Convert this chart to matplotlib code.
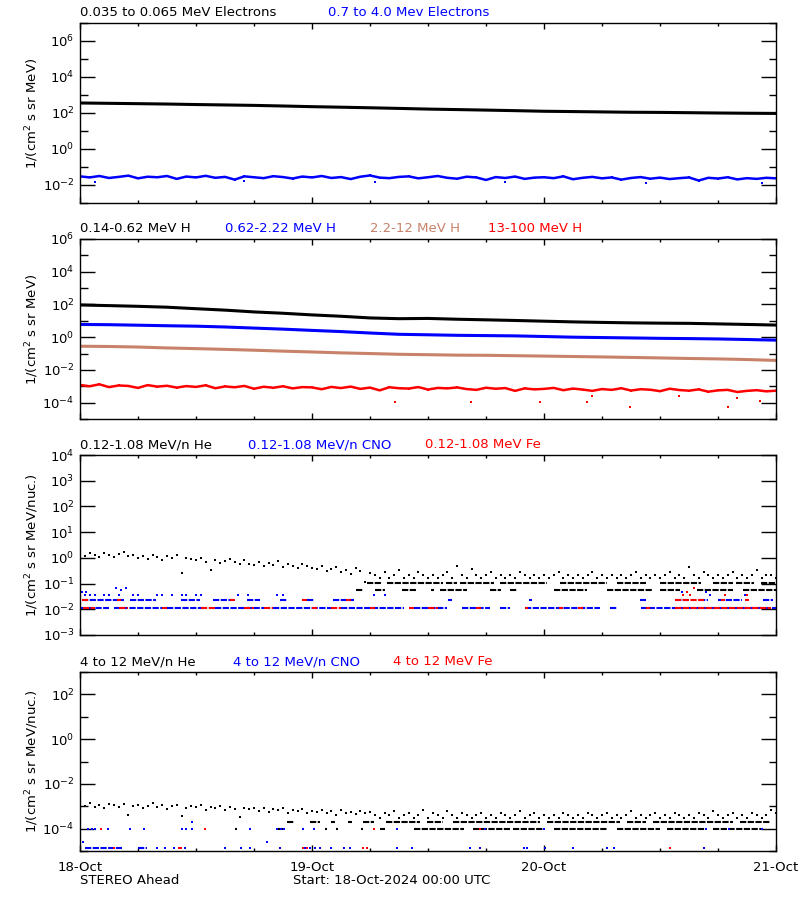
import numpy as np
import matplotlib
matplotlib.use("Agg")
import matplotlib.pyplot as plt
from matplotlib.ticker import FixedLocator, LogFormatterMathtext, NullFormatter

plt.rcParams["font.family"] = "DejaVu Sans"
plt.rcParams["font.size"] = 9.5

BLUE = "#0000ff"
RED = "#ff0000"
TAN = "#c8826a"

# time axis: hours since 18-Oct-2024 00:00 UTC
day_labels = ["18-Oct", "19-Oct", "20-Oct", "21-Oct"]
t3 = np.arange(0, 73, 3)            # 3-hourly samples
t1 = np.arange(0, 73, 1)            # hourly samples
t_early = np.arange(0, 30.01, 0.5)  # half-hourly, first 30 h
t_late = np.arange(30.5, 72.01, 0.5)  # half-hourly, rest

# ---------------- panel 1: electrons ----------------
e_lo = [360, 345, 330, 315, 295, 280, 265, 245, 225, 210, 195, 180, 165,
        155, 145, 135, 125, 120, 115, 110, 108, 104, 100, 97, 95]
e_hi_log = [-1.52, -1.58, -1.50, -1.61, -1.55, -1.48, -1.63, -1.54, -1.57, -1.50, -1.66, -1.53,
            -1.58, -1.49, -1.60, -1.55, -1.70, -1.52, -1.57, -1.62, -1.51, -1.56, -1.64, -1.53,
            -1.58, -1.50, -1.61, -1.56, -1.67, -1.54, -1.47, -1.59, -1.62, -1.55, -1.52, -1.63,
            -1.57, -1.50, -1.60, -1.65, -1.54, -1.58, -1.72, -1.56, -1.61, -1.53, -1.66, -1.59,
            -1.57, -1.62, -1.52, -1.68, -1.60, -1.55, -1.63, -1.58, -1.70, -1.61, -1.56, -1.65,
            -1.59, -1.67, -1.62, -1.58, -1.75, -1.60, -1.64, -1.57, -1.69, -1.62, -1.66, -1.60, -1.63]
e_hi_out_hours = [1.5, 17.0, 30.5, 44.0, 58.5, 70.5]
e_hi_out_log = [-1.85, -1.80, -1.86, -1.82, -1.88, -1.90]

# ---------------- panel 2: protons ----------------
h1 = [93, 85, 77, 68, 55, 45, 35, 29, 23, 19, 15, 13.5, 14,
      12.5, 11.5, 10.5, 9.5, 8.6, 8.0, 7.5, 7.2, 7.0, 6.5, 6.0, 5.5]
h2 = [6.0, 5.8, 5.4, 5.0, 4.7, 4.2, 3.6, 3.1, 2.6, 2.2, 1.8, 1.5, 1.4,
      1.3, 1.25, 1.2, 1.1, 1.0, 0.95, 0.9, 0.85, 0.82, 0.78, 0.72, 0.66]
h3 = [0.28, 0.27, 0.25, 0.22, 0.20, 0.18, 0.16, 0.14, 0.125, 0.11, 0.10, 0.09, 0.085,
      0.08, 0.078, 0.074, 0.07, 0.066, 0.062, 0.058, 0.054, 0.05, 0.047, 0.043, 0.038]
h4_log = [-2.92, -3.00, -2.88, -3.05, -2.95, -2.98, -3.10, -2.93, -3.02, -2.97, -3.08, -2.99,
          -3.04, -2.94, -3.12, -3.01, -3.06, -2.98, -3.15, -3.03, -3.09, -3.00, -3.13, -3.05,
          -3.07, -3.18, -3.04, -3.11, -3.02, -3.16, -3.08, -3.25, -3.06, -3.12, -3.14, -3.05,
          -3.20, -3.10, -3.13, -3.07, -3.17, -3.22, -3.09, -3.15, -3.11, -3.28, -3.13, -3.19,
          -3.16, -3.10, -3.24, -3.14, -3.20, -3.28, -3.17, -3.22, -3.12, -3.26, -3.18, -3.21,
          -3.30, -3.15, -3.23, -3.27, -3.19, -3.33, -3.25, -3.22, -3.35, -3.28, -3.24, -3.31, -3.27]
h4_out_hours = [32.6, 40.4, 47.6, 52.4, 53.0, 56.9, 62.0, 67.0, 68.0, 70.3]
h4_out_log = [-3.94, -3.94, -3.94, -3.94, -3.60, -4.25, -3.60, -4.25, -3.70, -3.90]

# ---------------- panel 3: 0.12-1.08 MeV/n ions ----------------
he3_early_log = [0.15, 0.08, 0.20, 0.12, 0.05, 0.18, 0.10, 0.02, 0.14, 0.22, 0.06, 0.11,
                 0.00, 0.09, -0.05, 0.13, 0.03, -0.08, 0.07, -0.02, 0.10, -0.58, 0.01, -0.06,
                 -0.10, -0.02, -0.15, -0.47, -0.08, -0.20, -0.12, -0.05, -0.18, -0.25, -0.10, -0.22,
                 -0.28, -0.15, -0.32, -0.20, -0.26, -0.12, -0.35, -0.24, -0.30, -0.40, -0.22, -0.33,
                 -0.38, -0.45, -0.30, -0.50, -0.42, -0.35, -0.55, -0.48, -0.62, -0.40, -0.52, -0.95, -0.58]
he3_unit = 0.054
he3_late_counts = [4, 3, 5, 3, 4, 6, 3, 4, 3, 5, 4, 3,
                   4, 3, 4, 5, 3, 9, 4, 3, 7, 4, 3, 4,
                   5, 3, 4, 3, 4, 3, 5, 4, 3, 4, 3, 4,
                   3, 4, 5, 3, 4, 3, 4, 3, 4, 5, 3, 4,
                   3, 4, 3, 4, 3, 4, 5, 3, 4, 3, 4, 3,
                   4, 5, 3, 4, 3, 8, 4, 3, 5, 4, 3, 4,
                   3, 4, 5, 3, 4, 3, 4, 6, 3, 4, 4, 3]
he3_l1 = [(28.5, 29.3), (30.5, 31.5), (33.3, 34.8), (36.3, 36.6), (37.2, 40), (42.4, 43.5),
          (44.5, 45.2), (49, 52.4), (54.5, 59.3), (60, 62.1), (63.8, 67.6), (68.6, 72)]
he3_l2 = [(29.7, 31.2), (31.8, 37.6), (37.9, 39), (39.3, 42.8), (43.4, 48.3), (49.7, 54.5),
          (55.5, 58.6), (60, 64.2), (65.5, 67.6), (67.9, 69.7), (70.4, 72)]

cno3_unit = 0.0115
cno3_l1 = [(0, 3), (3.5, 8.5), (9, 13), (14, 19), (20, 26), (27, 33.5), (34.5, 38),
           (39.5, 42.4), (43.4, 44.5), (46, 53.8), (54.8, 55.5), (58, 72)]
cno3_l2 = [(0.2, 4.5), (5.2, 7.9), (10.4, 12.4), (13.8, 15.9), (17.3, 18.6), (20.7, 21.4),
           (23.5, 24.2), (26.2, 28.3), (38.1, 38.5), (46.4, 46.8), (57.9, 58.5), (61.5, 63),
           (64, 65), (66, 68.5), (70.7, 71.7)]
cno3_pts_hours = [0.5, 1, 1.5, 2.5, 3, 4, 5.5, 6, 8, 8.5, 9.5, 10.5, 11, 12, 12.5, 16.3,
                  17.4, 20.4, 21, 30.4, 31.5, 65.2, 68.8, 0.2, 0.6, 3.7, 4.2, 4.8, 62.3, 64.8]
cno3_pts_counts = [3, 3, 3, 3, 3, 3, 3, 3, 3, 3, 3, 3, 3, 3, 3, 3,
                   3, 3, 3, 3, 3, 3, 3, 4, 4, 6, 5, 6, 4, 4]
fe3_l1 = [(0.3, 1.5), (4, 5), (8.5, 9), (12.5, 14), (17, 18), (19, 20), (24, 24.5), (26, 27),
          (30, 30.5), (34, 34.5), (36, 37), (41, 41.5), (46, 46.3), (49.5, 50), (51.5, 52),
          (58.5, 59), (61.5, 71.5)]
fe3_l2 = [(0.2, 0.8), (3.8, 4.2), (15.5, 16), (23, 23.5), (27.5, 28), (61.5, 64.5),
          (66.3, 66.7), (68.8, 69.2)]
fe3_pts_hours = [62.4, 62.8, 63.1, 63.5, 66.7, 69.0]
fe3_pts_counts = [3, 4, 3, 6, 3, 3]

# ---------------- panel 4: 4-12 MeV/n ions ----------------
he4_early_log = [-2.90, -2.98, -2.85, -3.02, -2.93, -3.10, -2.88, -2.96, -3.05, -2.92, -3.40, -2.99,
                 -2.94, -3.08, -2.97, -2.87, -3.03, -2.95, -3.12, -3.00, -2.93, -3.45, -3.06, -2.98,
                 -3.04, -2.96, -3.15, -3.02, -3.09, -2.99, -3.18, -3.05, -3.11, -3.50, -3.07, -3.14,
                 -3.10, -3.20, -3.06, -3.25, -3.13, -3.18, -3.08, -3.28, -3.16, -3.22, -3.12, -3.30,
                 -3.19, -3.26, -3.15, -3.32, -3.22, -3.40, -3.18, -3.29, -3.24, -3.35, -3.21, -3.30, -3.27]
he4_unit = 1.0e-4
he4_late_counts = [4, 3, 5, 4, 6, 3, 4, 5, 3, 4, 7, 3,
                   5, 4, 3, 6, 4, 3, 5, 4, 3, 4, 5, 3,
                   4, 3, 5, 4, 3, 4, 6, 3, 4, 5, 3, 4,
                   3, 4, 3, 5, 4, 3, 4, 3, 5, 4, 3, 4,
                   5, 3, 4, 3, 4, 6, 3, 4, 3, 4, 5, 3,
                   4, 3, 5, 4, 3, 4, 3, 5, 4, 3, 6, 4,
                   3, 4, 5, 3, 4, 3, 5, 4, 3, 4, 7, 5]
he4_l1 = [(16, 16.2), (17.5, 17.7), (20.5, 21), (23, 23.2), (24.1, 24.3), (25.3, 25.5),
          (26.5, 26.7), (29.1, 29.3), (31, 31.6), (34.5, 39.7), (40.7, 44.5), (44.8, 47.9),
          (49, 54.5), (55.5, 60), (60.7, 64.8), (65.5, 70.7)]
he4_l2 = [(21.4, 22.1), (23.8, 24.8), (26, 26.4), (27.7, 28.1), (29.3, 30.4), (31.7, 35.2),
          (35.9, 37.6), (38.6, 47.6), (48.3, 55.9), (56.6, 58.6), (59.3, 67.6), (68.3, 71.4)]
cno4_hours = [0.8, 1.2, 1.6, 2.9, 5.2, 6.6, 10.5, 11.0, 11.6, 11.6, 17.6, 20.4, 20.8, 21.1,
              23.1, 24.2, 32.8, 41.9, 48.0, 64.8, 67.1, 70.5, 0.35, 19.3]
cno4_vals = [1e-4, 1e-4, 1e-4, 1e-4, 1e-4, 1e-4, 1e-4, 1e-4, 1e-4, 2e-4, 1e-4, 1e-4, 1e-4, 1e-4,
             1e-4, 1e-4, 1e-4, 1e-4, 1e-4, 1e-4, 1e-4, 1e-4, 2.5e-5, 2.5e-5]
floor4 = 1.3e-5
cno4_floor_segs = [(0.5, 4.3), (6, 6.9)]
cno4_floor_hours = [8, 8.8, 9.7, 10.9, 15, 16.7, 17.6, 20.7, 23.3, 23.8, 24.3, 24.8, 26,
                    27.3, 27.9, 32.8, 34.3, 40.3, 41.4, 45.9, 46.2, 48.1, 51, 54.5, 55.2, 64.5]
fe4_hi_hours = [2.2, 12.9, 30.4, 41.4]
fe4_floor_hours = [3.5, 10.2, 10.4, 23.1, 23.5, 29.3, 29.7, 61.0]

titles1 = [("0.035 to 0.065 MeV Electrons", "black"), ("0.7 to 4.0 Mev Electrons", BLUE)]
titles2 = [("0.14-0.62 MeV H", "black"), ("0.62-2.22 MeV H", BLUE),
           ("2.2-12 MeV H", TAN), ("13-100 MeV H", RED)]
titles3 = [("0.12-1.08 MeV/n He", "black"), ("0.12-1.08 MeV/n CNO", BLUE),
           ("0.12-1.08 MeV Fe", RED)]
titles4 = [("4 to 12 MeV/n He", "black"), ("4 to 12 MeV/n CNO", BLUE), ("4 to 12 MeV Fe", RED)]

W, H = 800, 900


def box(top, bottom):
    return [80 / W, 1 - bottom / H, 696 / W, (bottom - top) / H]


def setup(ax, lo, hi, major, minor, ylabel):
    ax.set_xlim(0, 72)
    ax.set_yscale("log")
    ax.set_ylim(10.0 ** lo, 10.0 ** hi)
    ax.yaxis.set_major_locator(FixedLocator(10.0 ** np.array(major, dtype=float)))
    ax.yaxis.set_major_formatter(LogFormatterMathtext())
    ax.yaxis.set_minor_locator(FixedLocator(10.0 ** np.array(minor, dtype=float)))
    ax.yaxis.set_minor_formatter(NullFormatter())
    ax.xaxis.set_major_locator(FixedLocator([0, 24, 48, 72]))
    ax.xaxis.set_minor_locator(FixedLocator(np.arange(0, 73, 6)))
    ax.tick_params(axis="y", which="major", direction="in", length=10.5, width=1,
                   left=True, right=True, pad=4, labelsize=9.5)
    ax.tick_params(axis="y", which="minor", direction="in", length=5.4, width=1,
                   left=True, right=True)
    ax.tick_params(axis="x", which="major", direction="in", length=4, width=1,
                   top=True, bottom=True, labelbottom=False)
    ax.tick_params(axis="x", which="minor", direction="in", length=2.5, width=1,
                   top=True, bottom=True)
    for s in ax.spines.values():
        s.set_linewidth(1)
    ax.set_ylabel(ylabel)
    ax.yaxis.set_label_coords(-0.056, 0.5)


def titles(ax, items, xs):
    for (txt, col), px in zip(items, xs):
        ax.text((px - 80) / 696, 1.058, txt, color=col, transform=ax.transAxes,
                ha="left", va="center")


def stripes(ax, level, segs, color, lw=1.5):
    ax.hlines([level] * len(segs), [a for a, _ in segs], [b for _, b in segs],
              colors=color, lw=lw, linestyles=(0, (3, 0.7)))


def dots(ax, x, y, color, ms=1.6):
    ax.plot(x, y, "s", color=color, ms=ms, mew=0, ls="none")


def band(ax, x, y, color):
    ax.plot(x, y, color=color, lw=1.8, marker="s", ms=1.8, mew=0)


fig = plt.figure(figsize=(8, 9), dpi=100)
lab_e = r"1/(cm$^2$ s sr MeV)"
lab_n = r"1/(cm$^2$ s sr MeV/nuc.)"

# panel 1
ax1 = fig.add_axes(box(23, 203))
setup(ax1, -3, 7, [-2, 0, 2, 4, 6], [-3, -1, 1, 3, 5, 7], lab_e)
ax1.plot(t3, e_lo, color="black", lw=2.2)
band(ax1, t1, 10.0 ** np.array(e_hi_log), BLUE)
dots(ax1, e_hi_out_hours, 10.0 ** np.array(e_hi_out_log), BLUE)
titles(ax1, titles1, [80, 328])

# panel 2
ax2 = fig.add_axes(box(239, 419))
setup(ax2, -5, 6, [-4, -2, 0, 2, 4, 6], [-5, -3, -1, 1, 3, 5], lab_e)
ax2.plot(t3, h1, color="black", lw=2.2)
ax2.plot(t3, h2, color=BLUE, lw=2.2)
ax2.plot(t3, h3, color=TAN, lw=2.2)
band(ax2, t1, 10.0 ** np.array(h4_log), RED)
dots(ax2, h4_out_hours, 10.0 ** np.array(h4_out_log), RED)
titles(ax2, titles2, [80, 225, 370, 488])

# panel 3
ax3 = fig.add_axes(box(455, 635))
setup(ax3, -3, 4, [-3, -2, -1, 0, 1, 2, 3, 4], [], lab_n)
dots(ax3, t_early, 10.0 ** np.array(he3_early_log), "black")
dots(ax3, t_late, he3_unit * np.array(he3_late_counts), "black")
stripes(ax3, he3_unit, he3_l1, "black")
stripes(ax3, 2 * he3_unit, he3_l2, "black")
stripes(ax3, cno3_unit, cno3_l1, BLUE)
stripes(ax3, 2 * cno3_unit, cno3_l2, BLUE)
dots(ax3, cno3_pts_hours, cno3_unit * np.array(cno3_pts_counts), BLUE)
stripes(ax3, cno3_unit, fe3_l1, RED)
stripes(ax3, 2 * cno3_unit, fe3_l2, RED)
dots(ax3, fe3_pts_hours, cno3_unit * np.array(fe3_pts_counts), RED)
titles(ax3, titles3, [80, 248, 425])

# panel 4
ax4 = fig.add_axes(box(672, 851))
setup(ax4, -5, 3, [-4, -2, 0, 2], [-5, -3, -1, 1, 3], lab_n)
dots(ax4, t_early, 10.0 ** np.array(he4_early_log), "black")
dots(ax4, t_late, he4_unit * np.array(he4_late_counts), "black")
stripes(ax4, he4_unit, he4_l1, "black")
stripes(ax4, 2 * he4_unit, he4_l2, "black")
dots(ax4, cno4_hours, cno4_vals, BLUE)
stripes(ax4, floor4, cno4_floor_segs, BLUE)
dots(ax4, cno4_floor_hours, [floor4] * len(cno4_floor_hours), BLUE)
dots(ax4, fe4_hi_hours, [1e-4] * len(fe4_hi_hours), RED)
dots(ax4, fe4_floor_hours, [floor4] * len(fe4_floor_hours), RED)
titles(ax4, titles4, [80, 233, 393])
ax4.set_xticks([0, 24, 48, 72])
ax4.set_xticklabels(day_labels)
ax4.tick_params(axis="x", which="major", labelbottom=True, pad=7, labelsize=9.5)

fig.text(80 / W, 1 - 881 / H, "STEREO Ahead", ha="left", va="center")
fig.text(293 / W, 1 - 881 / H, "Start: 18-Oct-2024 00:00 UTC", ha="left", va="center")

fig.savefig("out.png", dpi=100)
